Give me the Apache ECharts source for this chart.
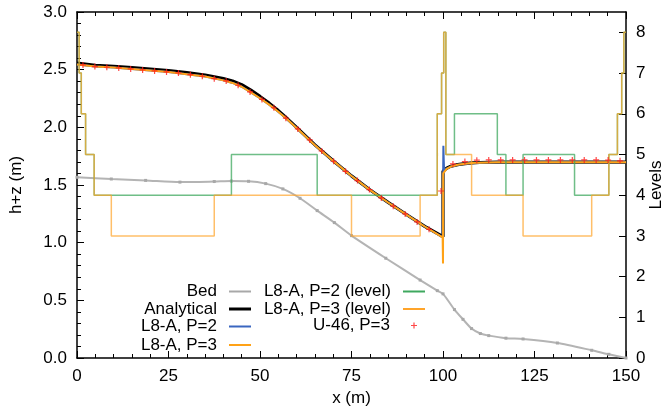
<!DOCTYPE html>
<html>
<head>
<meta charset="utf-8">
<script src="https://cdn.jsdelivr.net/npm/echarts@6/dist/echarts.min.js"></script>
<style>
html,body{margin:0;padding:0;background:#fff;overflow:hidden;width:668px;height:420px;}
#chart{width:668px;height:420px;}
</style>
</head>
<body>
<div id="chart"></div>
<script>
// ---------------- data ----------------
const xTicks = [0, 25, 50, 75, 100, 125, 150];
const yTicks = [0.0, 0.5, 1.0, 1.5, 2.0, 2.5, 3.0];
const levelTicks = [0, 1, 2, 3, 4, 5, 6, 7, 8];

const bedX = [0, 9.375, 18.75, 28.125, 37.5, 42.19, 46.875, 51.56, 56.25, 60.94, 65.625, 70.31, 75, 84.375, 93.75, 98.44, 100.0, 103.125, 105.47, 107.8, 110.2, 112.5, 117.19, 121.875, 131.25, 140.625, 145.3, 150];
const bedZ = [1.567, 1.552, 1.540, 1.525, 1.530, 1.534, 1.532, 1.512, 1.466, 1.385, 1.278, 1.174, 1.061, 0.865, 0.676, 0.584, 0.556, 0.420, 0.335, 0.255, 0.212, 0.194, 0.172, 0.165, 0.130, 0.067, 0.032, 0.0];

const anaX = [0, 5, 10, 15, 20, 25, 30, 35, 40, 42.5, 45, 47.5, 50, 52.5, 55, 57.5, 60, 65, 70, 75, 80, 85, 90, 95, 100, 100, 101, 102, 104, 106, 108, 110, 115, 125, 150];
const anaH = [2.556, 2.538, 2.529, 2.517, 2.505, 2.492, 2.474, 2.454, 2.422, 2.402, 2.370, 2.322, 2.268, 2.210, 2.145, 2.074, 2.000, 1.848, 1.711, 1.579, 1.459, 1.349, 1.244, 1.141, 1.052, 1.620, 1.645, 1.661, 1.677, 1.686, 1.692, 1.695, 1.698, 1.699, 1.699];

const p2X = [0, 5, 10, 15, 20, 25, 30, 35, 40, 42.5, 45, 47.5, 50, 52.5, 55, 57.5, 60, 65, 70, 75, 80, 85, 90, 95, 99.9, 100, 100.1, 100.2, 100.3, 101, 102, 104, 106, 108, 110, 115, 125, 150];
const p2H = [2.545, 2.527, 2.518, 2.505, 2.492, 2.479, 2.461, 2.440, 2.407, 2.385, 2.352, 2.303, 2.252, 2.197, 2.135, 2.067, 1.995, 1.845, 1.709, 1.578, 1.458, 1.348, 1.243, 1.140, 1.045, 1.050, 1.840, 1.720, 1.630, 1.642, 1.658, 1.675, 1.685, 1.691, 1.694, 1.697, 1.698, 1.698];

const p3X = [0, 5, 10, 15, 20, 25, 30, 35, 40, 42.5, 45, 47.5, 50, 52.5, 55, 57.5, 60, 65, 70, 75, 80, 85, 90, 95, 99.9, 100, 100.05, 101, 102, 104, 106, 108, 110, 115, 125, 150];
const p3H = [2.545, 2.527, 2.518, 2.505, 2.492, 2.479, 2.461, 2.440, 2.407, 2.385, 2.352, 2.303, 2.252, 2.197, 2.135, 2.067, 1.995, 1.845, 1.709, 1.578, 1.458, 1.348, 1.243, 1.140, 1.045, 0.820, 1.600, 1.640, 1.658, 1.675, 1.685, 1.691, 1.694, 1.697, 1.698, 1.698];

const lvP2X = [0, 0.586, 1.172, 2.344, 4.688, 42.19, 65.625, 98.4375, 99.609, 100.195, 100.781, 103.125, 114.844, 117.19, 121.875, 135.94, 145.313, 147.656, 148.828, 149.414, 150];
const lvP2  = [8, 7, 6, 5, 4, 5, 4, 6, 7, 8, 5, 6, 5, 4, 5, 4, 5, 6, 7, 8, 8];

const lvP3X = [0, 0.586, 1.172, 2.344, 4.688, 9.375, 37.5, 75, 93.75, 98.4375, 99.609, 100.195, 100.781, 107.813, 121.875, 140.625, 145.313, 147.656, 148.828, 149.414, 150];
const lvP3  = [8, 7, 6, 5, 4, 3, 4, 3, 4, 6, 7, 8, 5, 4, 3, 4, 5, 6, 7, 8, 8];

const u46X = [1.63, 4.89, 8.15, 11.41, 14.67, 17.93, 21.20, 24.46, 27.72, 30.98, 34.24, 37.50, 40.76, 44.02, 47.28, 50.54, 53.80, 57.07, 60.33, 63.59, 66.85, 70.11, 73.37, 76.63, 79.89, 83.15, 86.41, 89.67, 92.93, 96.20, 99.46, 102.72, 105.98, 109.24, 112.50, 115.76, 119.02, 122.28, 125.54, 128.80, 132.07, 135.33, 138.59, 141.85, 145.11, 148.37];
const u46H = [2.541, 2.527, 2.521, 2.515, 2.506, 2.498, 2.489, 2.480, 2.472, 2.457, 2.443, 2.422, 2.402, 2.365, 2.307, 2.242, 2.170, 2.079, 1.986, 1.891, 1.795, 1.706, 1.619, 1.538, 1.460, 1.388, 1.316, 1.249, 1.180, 1.116, 1.448, 1.683, 1.703, 1.715, 1.717, 1.717, 1.717, 1.717, 1.717, 1.717, 1.717, 1.717, 1.717, 1.717, 1.716, 1.710];

const names = ['Bed', 'Analytical', 'L8-A, P=2', 'L8-A, P=3', 'L8-A, P=2 (level)', 'L8-A, P=3 (level)', 'U-46, P=3'];

// ---------------- chart ----------------
const zip = (xs, ys) => xs.map((x, i) => [x, ys[i]]);
const FONT = 'Liberation Sans, Arial, Helvetica, sans-serif';
const FS = 17;
const PLUS = 'path://M2,0H3V2H5V3H3V5H2V3H0V2H2Z';

const COL = {
  bed: '#b4b4b4', ana: '#000000', p2: '#3a66c0', p3: '#ffa216',
  lv2: '#3fa85f', lv3: '#ffa42a', u46: '#ff1a1a'
};

function legendItem(name, right, top, icon, w, h, padRight) {
  return {
    data: [{ name: name, icon: icon }],
    orient: 'vertical', align: 'right',
    right: right, top: top,
    itemWidth: w, itemHeight: h, padding: 0,
    selectedMode: false,
    textStyle: { fontSize: FS, fontFamily: FONT, color: '#000', padding: [0, padRight, 0, 0] }
  };
}

const rows = [283, 300.5, 318, 336.5];
const option = {
  animation: false,
  backgroundColor: '#fff',
  grid: { left: 77, right: 42, top: 12, bottom: 62, containLabel: false, outerBoundsMode: 'none' },
  legend: [
    legendItem(names[0], 417, rows[0], 'rect', 22, 2, 7),
    legendItem(names[1], 417, rows[1], 'rect', 22, 3, 7),
    legendItem(names[2], 417, rows[2], 'rect', 22, 2, 7),
    legendItem(names[3], 417, rows[3], 'rect', 22, 2, 7),
    legendItem(names[4], 243, rows[0], 'rect', 22, 2, 7),
    legendItem(names[5], 243, rows[1], 'rect', 22, 2, 7),
    legendItem(names[6], 251, rows[2] - 1, PLUS, 6, 6, 16)
  ],
  xAxis: [
    {
      type: 'value', min: xTicks[0], max: xTicks[xTicks.length - 1], interval: 25,
      position: 'bottom',
      name: 'x (m)', nameLocation: 'middle', nameGap: 32,
      nameTextStyle: { fontSize: FS, fontFamily: FONT, color: '#000' },
      axisLine: { show: true, onZero: false, lineStyle: { color: '#000', width: 1.5 } },
      axisTick: { show: true, inside: true, length: 7, lineStyle: { color: '#000', width: 1 } },
      minorTick: { show: true, splitNumber: 5, length: 4, lineStyle: { color: '#000', width: 1 } },
      axisLabel: { fontSize: FS, fontFamily: FONT, color: '#000', margin: 10 },
      splitLine: { show: false }
    },
    {
      type: 'value', min: xTicks[0], max: xTicks[xTicks.length - 1], interval: 25,
      position: 'top',
      axisLine: { show: true, onZero: false, lineStyle: { color: '#000', width: 1.5 } },
      axisTick: { show: true, inside: true, length: 7, lineStyle: { color: '#000', width: 1 } },
      minorTick: { show: true, splitNumber: 5, length: 4, lineStyle: { color: '#000', width: 1 } },
      axisLabel: { show: false },
      splitLine: { show: false }
    }
  ],
  yAxis: [
    {
      type: 'value', min: yTicks[0], max: yTicks[yTicks.length - 1], interval: 0.5,
      position: 'left',
      name: 'h+z (m)', nameLocation: 'middle', nameGap: 52, nameRotate: 90,
      nameTextStyle: { fontSize: FS, fontFamily: FONT, color: '#000' },
      axisLine: { show: true, onZero: false, lineStyle: { color: '#000', width: 1.5 } },
      axisTick: { show: true, inside: true, length: 7, lineStyle: { color: '#000', width: 1 } },
      minorTick: { show: true, splitNumber: 5, length: 4, lineStyle: { color: '#000', width: 1 } },
      axisLabel: { fontSize: FS, fontFamily: FONT, color: '#000', margin: 10, formatter: v => v.toFixed(1) },
      splitLine: { show: false }
    },
    {
      type: 'value', min: levelTicks[0], max: 8.5, interval: 1,
      position: 'right',
      name: 'Levels', nameLocation: 'middle', nameGap: 22, nameRotate: 90, nameMoveOverlap: false,
      nameTextStyle: { fontSize: FS, fontFamily: FONT, color: '#000' },
      axisLine: { show: true, onZero: false, lineStyle: { color: '#000', width: 1.5 } },
      axisTick: { show: true, inside: true, length: 7, lineStyle: { color: '#000', width: 1 } },
      axisLabel: {
        fontSize: FS, fontFamily: FONT, color: '#000', margin: 10, showMaxLabel: false,
        formatter: v => (levelTicks.indexOf(v) >= 0 ? String(v) : '')
      },
      splitLine: { show: false }
    }
  ],
  series: [
    {
      name: names[0], type: 'line', data: zip(bedX, bedZ),
      smooth: 0.25,
      symbol: 'rect', symbolSize: 3, showSymbol: true,
      lineStyle: { color: COL.bed, width: 2 }, itemStyle: { color: '#a8a8a8', borderWidth: 0 }, z: 1
    },
    {
      name: names[1], type: 'line', data: zip(anaX, anaH), symbol: 'none',
      lineStyle: { color: COL.ana, width: 3.2 }, itemStyle: { color: COL.ana }, z: 2
    },
    {
      name: names[2], type: 'line', data: zip(p2X, p2H), symbol: 'none',
      lineStyle: { color: COL.p2, width: 2 }, itemStyle: { color: COL.p2 }, z: 3
    },
    {
      name: names[3], type: 'line', data: zip(p3X, p3H), symbol: 'none',
      lineStyle: { color: COL.p3, width: 2 }, itemStyle: { color: COL.p3 }, z: 4
    },
    {
      name: names[4], type: 'line', yAxisIndex: 1, step: 'end', data: zip(lvP2X, lvP2), symbol: 'none',
      lineStyle: { color: COL.lv2, width: 1.5, opacity: 0.75 }, itemStyle: { color: COL.lv2 }, z: 5
    },
    {
      name: names[5], type: 'line', yAxisIndex: 1, step: 'end', data: zip(lvP3X, lvP3), symbol: 'none',
      lineStyle: { color: COL.lv3, width: 1.5, opacity: 0.7 }, itemStyle: { color: COL.lv3 }, z: 6
    },
    {
      name: names[6], type: 'scatter', data: zip(u46X, u46H),
      symbol: PLUS, symbolSize: 6,
      itemStyle: { color: COL.u46 }, z: 7
    }
  ]
};

const chart = echarts.init(document.getElementById('chart'), null, { renderer: 'canvas' });
chart.setOption(option);
</script>
</body>
</html>
